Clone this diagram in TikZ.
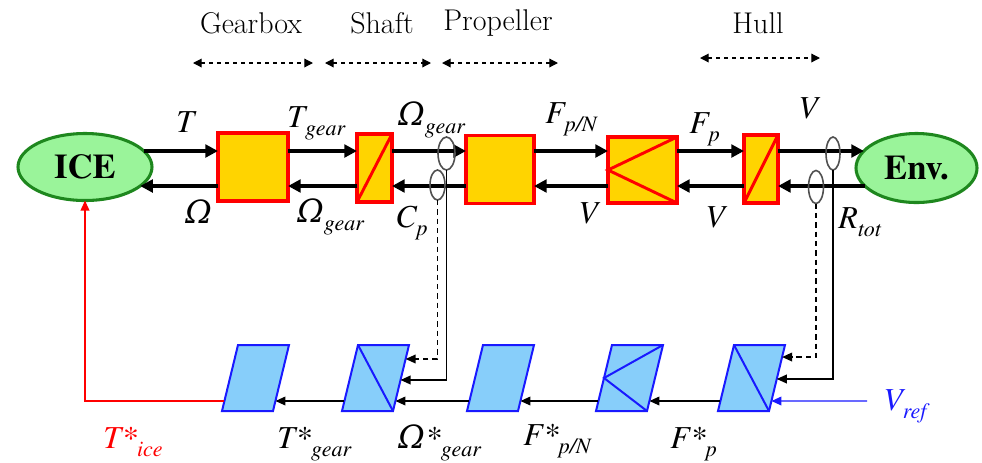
\documentclass[tikz,border=0pt]{standalone}
\usepackage[T1,TU]{fontenc}
\usepackage{fontspec}
\newfontfamily\dvs{DejaVu Serif}
\newcommand{\tm}{\fontencoding{T1}\fontfamily{ptm}\selectfont}
\usetikzlibrary{calc,arrows.meta,shapes.geometric}
\definecolor{gold}{RGB}{255,212,0}
\definecolor{lgreen}{RGB}{154,244,154}
\definecolor{dgreen}{RGB}{30,135,30}
\definecolor{lblue}{RGB}{135,206,250}
\definecolor{pblue}{RGB}{25,25,255}
\definecolor{ovgray}{RGB}{80,80,80}
\newcommand{\pxu}{0.75pt}
\newcommand{\Om}{{\dvs\itshape Ω}}
\newcommand{\mlab}[1]{\fontsize{24}{26}\selectfont\tm\itshape #1}
\newcommand{\lb}[2]{\fontsize{24}{26}\selectfont\tm\itshape #1\raisebox{-6.5pt}{\fontsize{16.5}{18}\selectfont\tm\itshape #2}}
\newcommand{\pgram}[2]{%
  \coordinate (#1-bl) at (#2,411);
  \coordinate (#1-br) at (#2+51,411);
  \coordinate (#1-tr) at (#2+67,345);
  \coordinate (#1-tl) at (#2+16,345);
  \draw[pg] (#1-bl) -- (#1-br) -- (#1-tr) -- (#1-tl) -- cycle;
  \coordinate (#1-r) at ($(#1-br)!0.1515!(#1-tr)$);
  \coordinate (#1-l) at ($(#1-bl)!0.1515!(#1-tl)$);
}
\begin{document}
\begin{tikzpicture}[x=0.75pt,y=-0.75pt,
  ybox/.style={draw=red, fill=gold, line width=2.6pt, inner sep=0pt, outer sep=0pt},
  ell/.style={ellipse, draw=dgreen, fill=lgreen, line width=2.3pt, inner sep=0pt, outer sep=0pt, font=\fontsize{26}{28}\selectfont\tm\bfseries},
  oval/.style={ellipse, draw=ovgray, line width=1.2pt, minimum width=15*\pxu, minimum height=33*\pxu, inner sep=0pt, outer sep=0pt},
  big/.style={line width=2.6pt, -{Triangle[length=9.5pt,width=9.5pt]}},
  thinarr/.style={line width=1.1pt, -{Triangle[length=7.5pt,width=6.5pt]}},
  pg/.style={draw=pblue, fill=lblue, line width=1.5pt, line join=miter},
  diag/.style={red, line width=2.2pt},
  pdiag/.style={pblue, line width=1.5pt},
  lab/.style={anchor=base west, inner sep=0pt},
  hdr/.style={font=\fontsize{22.5}{25}\selectfont, inner sep=0pt},
  harr/.style={dashed, line width=0.9pt, arrows={Triangle[length=6.5pt,width=6.5pt]-Triangle[length=6.5pt,width=6.5pt]}}
]
\useasboundingbox (0,0) rectangle (982,462);

% rows
\coordinate (U) at (0,151);
\coordinate (L) at (0,186);

% header
\node[hdr] (hg) at (251,23) {Gearbox};
\node[hdr] (hs) at (382,23) {Shaft};
\node[hdr] (hp) at (498,23) {Propeller};
\node[hdr] (hh) at (758,23) {Hull};
\coordinate (g1) at (193,63); \coordinate (g2) at (313,63);
\coordinate (s1) at (325,63); \coordinate (s2) at (431,63);
\coordinate (p1) at (442,63); \coordinate (p2) at (558,63);
\coordinate (h1) at (700,58); \coordinate (h2) at (820,58);
\draw[harr] (g1) -- (g2);
\draw[harr] (s1) -- (s2);
\draw[harr] (p1) -- (p2);
\draw[harr] (h1) -- (h2);

% top chain
\node[ell, minimum width=134*\pxu, minimum height=67*\pxu] (ICE) at (85,167) {ICE};
\node[ell, minimum width=121*\pxu, minimum height=69*\pxu] (Env) at (916.5,168) {Env.};
\node[ybox, minimum width=70*\pxu, minimum height=68*\pxu] (gbx) at (253,167) {};
\node[ybox, minimum width=35*\pxu, minimum height=68*\pxu] (shf) at (374.5,168) {};
\node[ybox, minimum width=68*\pxu, minimum height=68*\pxu] (prp) at (500,169.5) {};
\node[ybox, minimum width=69*\pxu, minimum height=66*\pxu] (tri) at (642.5,170) {};
\node[ybox, minimum width=34*\pxu, minimum height=68*\pxu] (hul) at (761,169) {};
\draw[diag] (shf.south west) -- (shf.north east);
\draw[diag] (hul.south west) -- (hul.north east);
\draw[diag] (tri.north east) -- (tri.west) -- (tri.south east);

% forward arrows
\draw[big] (ICE.15 |- U) -- (gbx.west |- U);
\draw[big] (gbx.east |- U) -- (shf.west |- U);
\draw[big] (shf.east |- U) -- (prp.west |- U);
\draw[big] (prp.east |- U) -- (tri.west |- U);
\draw[big] (tri.east |- U) -- (hul.west |- U);
\draw[big] (hul.east |- U) -- (Env.162 |- U);
% backward arrows
\draw[big] (gbx.west |- L) -- (ICE.-19 |- L);
\draw[big] (shf.west |- L) -- (gbx.east |- L);
\draw[big] (prp.west |- L) -- (shf.east |- L);
\draw[big] (tri.west |- L) -- (prp.east |- L);
\draw[big] (hul.west |- L) -- (tri.east |- L);
\draw[big] (Env.199 |- L) -- (hul.east |- L);

% measurement ovals
\node[oval, minimum width=17*\pxu] (o1) at (446.5,153.5) {};
\node[oval, minimum height=30*\pxu] (o2) at (437.5,185) {};
\node[oval, minimum width=14*\pxu] (o3) at (833,153.5) {};
\node[oval] (o4) at (816,187) {};

% bottom chain
\pgram{A}{222}
\pgram{B}{342}
\pgram{C}{467}
\pgram{D}{596}
\pgram{E}{718}
\draw[pdiag] (B-tl) -- (B-br);
\draw[pdiag] (E-tl) -- (E-br);
\coordinate (D-lm) at ($(D-bl)!0.5!(D-tl)$);
\draw[pdiag] (D-tr) -- (D-lm) -- (D-br);

\draw[thinarr] (E-l) -- (D-r);
\draw[thinarr] (D-l) -- (C-r);
\draw[thinarr] (C-l) -- (B-r);
\draw[thinarr] (B-l) -- (A-r);
\draw[red, line width=1.1pt, -{Triangle[length=7.5pt,width=6.5pt]}] (A-l) -| (ICE.south);
\coordinate (vs) at (867,401);
\draw[pblue, line width=1.1pt, -{Triangle[length=7.5pt,width=6.5pt]}] (vs) -- (E-r);

% feedback lines
\draw[thinarr] (o1.south) |- ($(B-br)!0.47!(B-tr)$);
\draw[thinarr, dash pattern=on 4pt off 3pt] (o2.south) |- ($(B-br)!0.788!(B-tr)$);
\draw[thinarr] (o3.south) |- ($(E-br)!0.485!(E-tr)$);
\draw[thinarr, dash pattern=on 4pt off 3pt] (o4.south) |- ($(E-br)!0.818!(E-tr)$);

% labels top
\node[lab] (lT) at (176,132) {\mlab{T}};
\node[lab] (lTg) at (287,127) {\lb{T}{gear}};
\node[lab] (lO) at (185,223) {\mlab{\Om}};
\node[lab] (lOg1) at (297,222) {\lb{\Om}{gear}};
\node[lab] (lOg2) at (398,125) {\lb{\Om}{gear}};
\node[lab] (lCp) at (395,227) {\lb{C}{p}};
\node[lab] (lFpN) at (545,123) {\lb{F}{p/N}};
\node[lab] (lV1) at (578,223) {\mlab{V}};
\node[lab] (lFp) at (689,133) {\lb{F}{p}};
\node[lab] (lV2) at (798,118) {\mlab{V}};
\node[lab] (lV3) at (705,227) {\mlab{V}};
\node[lab] (lR) at (838,228) {\lb{R}{tot}};
% labels bottom
\node[lab, text=red] (lTi) at (103,448) {\lb{T*}{ice}};
\node[lab] (lTgs) at (277,448) {\lb{T*}{gear}};
\node[lab] (lOgs) at (398,448) {\lb{\Om*}{gear}};
\node[lab] (lFpNs) at (523,445) {\lb{F*}{p/N}};
\node[lab] (lFps) at (670,448) {\lb{F*}{p}};
\node[lab, text=pblue] (vref) at (883,410) {\lb{V}{ref}};
\end{tikzpicture}
\end{document}
